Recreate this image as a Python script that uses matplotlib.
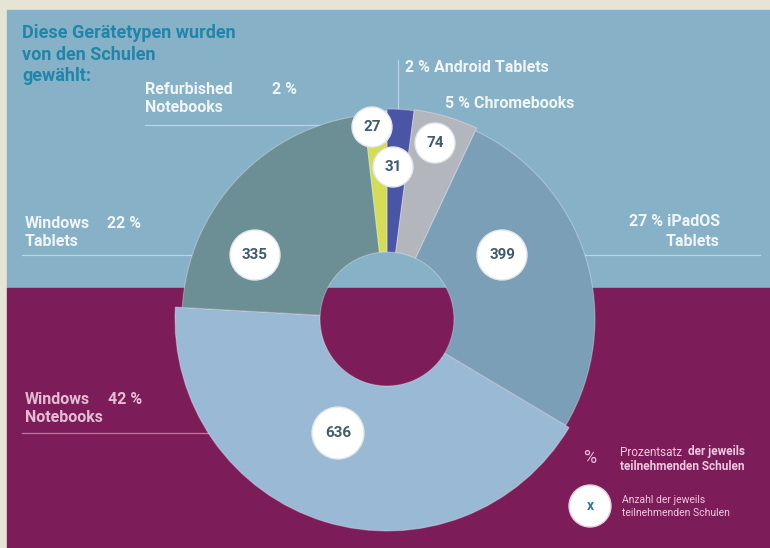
import matplotlib.pyplot as plt
from matplotlib.patches import Rectangle, Circle

plt.rcParams['font.family'] = ['Roboto', 'DejaVu Sans']

# data, clockwise from 12 o'clock
categories = ["Android Tablets", "Chromebooks", "iPadOS Tablets",
              "Windows Notebooks", "Windows Tablets", "Refurbished Notebooks"]
counts = [31, 74, 399, 636, 335, 27]
percents = [2, 5, 27, 42, 22, 2]

colors = ["#4b55a5", "#b4b6bd", "#7b9fb7", "#9ab9d5", "#6b8f94", "#d5dc55"]
radii = [210, 211, 208, 212, 205, 208]

W, H = 770, 548
BLUE = "#87b1c6"
PURPLE = "#7c1d5a"
NUMCOL = "#3f5b6e"


def py(y):
    # picture rows counted from top
    return H - y


fig = plt.figure(figsize=(7.7, 5.48), dpi=100)
ax = fig.add_axes([0, 0, 1, 1])

ax.add_patch(Rectangle((0, 0), W, H, color="#e6e4d5", zorder=0))
ax.add_patch(Rectangle((7, py(288)), W, 278, color=BLUE, zorder=0))
ax.add_patch(Rectangle((7, 0), W, py(288), color=PURPLE, zorder=0))

cx, cy, hole = 387, py(319), 67
wedges, _ = ax.pie(counts, colors=colors, startangle=90, counterclock=False,
                   radius=210, center=(cx, cy),
                   wedgeprops=dict(width=210 - hole, edgecolor=(1, 1, 1, 0.3),
                                   linewidth=0.8))
for w, r in zip(wedges, radii):
    w.set_radius(r)
    w.set_width(r - hole)
    w.set_zorder(2)

# leader lines
line_kw = dict(color="white", alpha=0.45, lw=0.9, zorder=1.5)
ax.plot([145, 372], [py(125), py(125)], **line_kw)
ax.plot([398, 398], [py(60), py(108)], **line_kw)
ax.plot([22, 255], [py(255), py(255)], **line_kw)
ax.plot([502, 760], [py(255), py(255)], **line_kw)
ax.plot([22, 320], [py(433), py(433)], color="#e9b6d6", alpha=0.6, lw=0.9, zorder=1.5)
ax.plot([320, 338], [py(433), py(433)], color="white", alpha=0.6, lw=0.9, zorder=3)

# count bubbles
bubbles = [(393, 167, 20), (435, 143, 20), (502, 255, 25),
           (338, 433, 26), (255, 255, 25), (372, 127, 20)]
for (bx, by, br), n in zip(bubbles, counts):
    ax.add_patch(Circle((bx, py(by)), br, facecolor="white",
                        edgecolor=(0.88, 0.9, 0.92), lw=1, zorder=4))
    ax.text(bx, py(by), str(n), ha="center", va="center", fontsize=11,
            fontweight="bold", color=NUMCOL, zorder=5)

# labels
lab = dict(fontsize=11.5, fontweight="bold", color="white", alpha=0.88,
           va="center", zorder=5)
pink = dict(lab, color="#f3d3e6")
ax.text(145, py(90), "Refurbished", **lab)
ax.text(145, py(108), "Notebooks", **lab)
ax.text(272, py(90), f"{percents[5]} %", **lab)
ax.text(405, py(68), f"{percents[0]} % Android Tablets", **lab)
ax.text(445, py(103), f"{percents[1]} % Chromebooks", **lab)
ax.text(25, py(223), "Windows", **lab)
ax.text(107, py(223), f"{percents[4]} %", **lab)
ax.text(25, py(242), "Tablets", **lab)
ax.text(720, py(222), f"{percents[2]} % iPadOS", ha="right", **lab)
ax.text(720, py(242), "Tablets", ha="right", **lab)
ax.text(25, py(400), "Windows", **pink)
ax.text(108, py(400), f"{percents[3]} %", **pink)
ax.text(25, py(418), "Notebooks", **pink)

# title
title_lines = ["Diese Gerätetypen wurden", "von den Schulen", "gewählt:"]
for i, t in enumerate(title_lines):
    ax.text(22, py(38 + 21.5 * i), t, fontsize=13, fontweight="bold",
            color="#1f86aa", va="baseline", zorder=5)

# legend
ax.text(590, py(458), "%", fontsize=13, color="#e8b8d8", ha="center",
        va="center", zorder=5)
leg = dict(fontsize=8.5, color="#f0c8e0", va="center", zorder=5)
ax.text(620, py(452), "Prozentsatz", **leg)
ax.text(688, py(452), "der jeweils", fontweight="bold", **leg)
ax.text(620, py(467), "teilnehmenden Schulen", fontweight="bold", **leg)
ax.add_patch(Circle((590, py(506)), 21, facecolor="white",
                    edgecolor=(0.9, 0.8, 0.87), lw=1, zorder=4))
ax.text(590, py(506), "x", fontsize=10, fontweight="bold", color="#2f7c8c",
        ha="center", va="center", zorder=5)
leg2 = dict(fontsize=7.5, color="#f0c8e0", va="center", zorder=5)
ax.text(622, py(500), "Anzahl der jeweils", **leg2)
ax.text(622, py(513), "teilnehmenden Schulen", **leg2)

ax.set_xlim(0, W)
ax.set_ylim(0, H)
ax.set_aspect("equal")
ax.set_axis_off()

fig.savefig("out.png", dpi=100)
